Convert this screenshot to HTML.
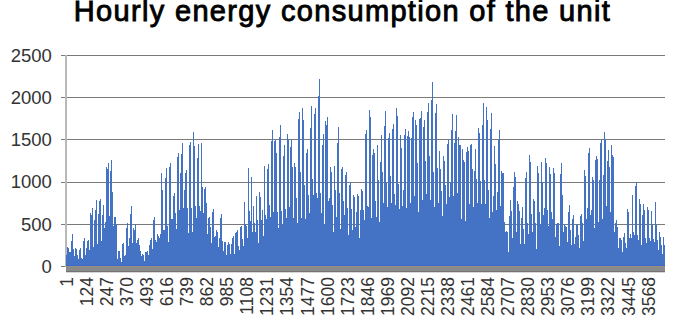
<!DOCTYPE html>
<html><head><meta charset="utf-8"><style>
html,body{margin:0;padding:0;background:#fff;width:685px;height:329px;overflow:hidden}
svg{display:block}
text{font-family:"Liberation Sans",sans-serif;fill:#333}
</style></head><body>
<svg width="685" height="329" viewBox="0 0 685 329">
<text x="342.5" y="21.2" text-anchor="middle" style="font-size:29px;letter-spacing:1.32px;fill:#000;stroke:#000;stroke-width:0.9px">Hourly energy consumption of the unit</text>
<g shape-rendering="crispEdges"><rect x="61" y="55" width="604" height="1" fill="#7a7a7a"/><rect x="61" y="97" width="604" height="1" fill="#7a7a7a"/><rect x="61" y="139" width="604" height="1" fill="#7a7a7a"/><rect x="61" y="182" width="604" height="1" fill="#7a7a7a"/><rect x="61" y="224" width="604" height="1" fill="#7a7a7a"/>
<rect x="65" y="55" width="2" height="212" fill="#b9b9b9"/>
</g>
<g style="font-size:18.5px"><text x="51.9" y="61.5" text-anchor="end">2500</text><text x="51.9" y="103.5" text-anchor="end">2000</text><text x="51.9" y="145.9" text-anchor="end">1500</text><text x="51.9" y="188.3" text-anchor="end">1000</text><text x="51.9" y="230.8" text-anchor="end">500</text><text x="51.9" y="273.3" text-anchor="end">0</text></g>
<g shape-rendering="crispEdges"><path d="M66 255.1h1V266h-1zM67 247.1h1V266h-1zM68 248.4h1V266h-1zM69 252.1h1V266h-1zM70 252.4h1V266h-1zM71 241.3h1V266h-1zM72 233.7h1V266h-1zM73 248.8h1V266h-1zM74 256.1h1V266h-1zM75 248.1h1V266h-1zM76 248.9h1V266h-1zM77 255.2h1V266h-1zM78 259.4h1V266h-1zM79 249.9h1V266h-1zM80 248.3h1V266h-1zM81 257.8h1V266h-1zM82 259.1h1V266h-1zM83 241.1h1V266h-1zM84 238.3h1V266h-1zM85 255.1h1V266h-1zM86 248.4h1V266h-1zM87 241.1h1V266h-1zM88 240.0h1V266h-1zM89 250.0h1V266h-1zM90 213.2h1V266h-1zM91 214.7h1V266h-1zM92 208.0h1V266h-1zM93 246.6h1V266h-1zM94 220.4h1V266h-1zM95 210.3h1V266h-1zM96 199.5h1V266h-1zM97 244.4h1V266h-1zM98 214.4h1V266h-1zM99 200.9h1V266h-1zM100 198.5h1V266h-1zM101 240.7h1V266h-1zM102 214.6h1V266h-1zM103 205.0h1V266h-1zM104 227.5h1V266h-1zM105 222.0h1V266h-1zM106 167.0h1V266h-1zM107 169.1h1V266h-1zM108 163.0h1V266h-1zM109 215.5h1V266h-1zM110 170.5h1V266h-1zM111 160.0h1V266h-1zM112 192.0h1V266h-1zM113 225.8h1V266h-1zM114 217.2h1V266h-1zM115 216.6h1V266h-1zM116 224.0h1V266h-1zM117 259.2h1V266h-1zM118 250.6h1V266h-1zM119 251.2h1V266h-1zM120 257.6h1V266h-1zM121 261.5h1V266h-1zM122 243.5h1V266h-1zM123 242.5h1V266h-1zM124 256.1h1V266h-1zM125 255.2h1V266h-1zM126 227.5h1V266h-1zM127 222.8h1V266h-1zM128 245.8h1V266h-1zM129 238.2h1V266h-1zM130 213.8h1V266h-1zM131 206.0h1V266h-1zM132 242.9h1V266h-1zM133 228.2h1V266h-1zM134 230.4h1V266h-1zM135 223.7h1V266h-1zM136 242.9h1V266h-1zM137 239.5h1V266h-1zM138 238.3h1V266h-1zM139 244.9h1V266h-1zM140 251.1h1V266h-1zM141 255.6h1V266h-1zM142 253.6h1V266h-1zM143 254.6h1V266h-1zM144 261.2h1V266h-1zM145 251.8h1V266h-1zM146 252.4h1V266h-1zM147 251.0h1V266h-1zM148 255.0h1V266h-1zM149 244.9h1V266h-1zM150 240.1h1V266h-1zM151 238.3h1V266h-1zM152 249.2h1V266h-1zM153 219.6h1V266h-1zM154 217.3h1V266h-1zM155 240.4h1V266h-1zM156 241.9h1V266h-1zM157 233.6h1V266h-1zM158 236.0h1V266h-1zM159 237.9h1V266h-1zM160 234.3h1V266h-1zM161 173.0h1V266h-1zM162 190.4h1V266h-1zM163 229.9h1V266h-1zM164 229.9h1V266h-1zM165 178.0h1V266h-1zM166 167.8h1V266h-1zM167 225.6h1V266h-1zM168 242.0h1V266h-1zM169 166.5h1V266h-1zM170 163.4h1V266h-1zM171 218.9h1V266h-1zM172 218.7h1V266h-1zM173 195.6h1V266h-1zM174 193.0h1V266h-1zM175 213.1h1V266h-1zM176 229.0h1V266h-1zM177 157.2h1V266h-1zM178 152.8h1V266h-1zM179 209.9h1V266h-1zM180 172.9h1V266h-1zM181 153.8h1V266h-1zM182 142.8h1V266h-1zM183 208.4h1V266h-1zM184 189.8h1V266h-1zM185 172.9h1V266h-1zM186 170.0h1V266h-1zM187 208.4h1V266h-1zM188 232.8h1V266h-1zM189 145.3h1V266h-1zM190 141.5h1V266h-1zM191 208.4h1V266h-1zM192 232.0h1V266h-1zM193 132.4h1V266h-1zM194 146.1h1V266h-1zM195 205.5h1V266h-1zM196 218.0h1V266h-1zM197 158.2h1V266h-1zM198 143.7h1V266h-1zM199 205.5h1V266h-1zM200 211.0h1V266h-1zM201 142.8h1V266h-1zM202 187.2h1V266h-1zM203 212.9h1V266h-1zM204 188.9h1V266h-1zM205 187.0h1V266h-1zM206 202.5h1V266h-1zM207 233.8h1V266h-1zM208 218.4h1V266h-1zM209 217.2h1V266h-1zM210 227.2h1V266h-1zM211 243.0h1V266h-1zM212 212.2h1V266h-1zM213 209.0h1V266h-1zM214 236.5h1V266h-1zM215 235.6h1V266h-1zM216 230.1h1V266h-1zM217 231.6h1V266h-1zM218 247.4h1V266h-1zM219 238.2h1V266h-1zM220 218.1h1V266h-1zM221 214.2h1V266h-1zM222 241.0h1V266h-1zM223 251.0h1V266h-1zM224 241.5h1V266h-1zM225 242.2h1V266h-1zM226 254.7h1V266h-1zM227 245.1h1V266h-1zM228 242.0h1V266h-1zM229 243.6h1V266h-1zM230 254.0h1V266h-1zM231 244.3h1V266h-1zM232 238.0h1V266h-1zM233 235.6h1V266h-1zM234 254.0h1V266h-1zM235 232.6h1V266h-1zM236 231.8h1V266h-1zM237 230.0h1V266h-1zM238 246.4h1V266h-1zM239 250.2h1V266h-1zM240 226.7h1V266h-1zM241 225.5h1V266h-1zM242 239.2h1V266h-1zM243 246.0h1V266h-1zM244 201.8h1V266h-1zM245 224.0h1V266h-1zM246 226.2h1V266h-1zM247 238.0h1V266h-1zM248 167.8h1V266h-1zM249 210.9h1V266h-1zM250 220.6h1V266h-1zM251 176.9h1V266h-1zM252 232.0h1V266h-1zM253 206.0h1V266h-1zM254 223.2h1V266h-1zM255 232.0h1V266h-1zM256 196.4h1V266h-1zM257 220.2h1V266h-1zM258 243.0h1V266h-1zM259 192.0h1V266h-1zM260 197.0h1V266h-1zM261 220.3h1V266h-1zM262 210.2h1V266h-1zM263 235.6h1V266h-1zM264 165.6h1V266h-1zM265 215.2h1V266h-1zM266 219.0h1V266h-1zM267 168.6h1V266h-1zM268 163.8h1V266h-1zM269 205.4h1V266h-1zM270 217.4h1V266h-1zM271 141.4h1V266h-1zM272 130.0h1V266h-1zM273 212.0h1V266h-1zM274 141.0h1V266h-1zM275 140.0h1V266h-1zM276 153.3h1V266h-1zM277 211.7h1V266h-1zM278 228.0h1V266h-1zM279 136.6h1V266h-1zM280 125.0h1V266h-1zM281 210.5h1V266h-1zM282 224.0h1V266h-1zM283 155.7h1V266h-1zM284 145.0h1V266h-1zM285 208.7h1V266h-1zM286 218.0h1V266h-1zM287 134.0h1V266h-1zM288 139.1h1V266h-1zM289 206.8h1V266h-1zM290 146.5h1V266h-1zM291 140.0h1V266h-1zM292 167.2h1V266h-1zM293 218.0h1V266h-1zM294 163.2h1V266h-1zM295 167.3h1V266h-1zM296 197.7h1V266h-1zM297 223.0h1V266h-1zM298 119.1h1V266h-1zM299 112.0h1V266h-1zM300 171.7h1V266h-1zM301 218.0h1V266h-1zM302 108.0h1V266h-1zM303 119.6h1V266h-1zM304 184.6h1V266h-1zM305 219.0h1V266h-1zM306 152.7h1V266h-1zM307 149.3h1V266h-1zM308 194.7h1V266h-1zM309 213.0h1V266h-1zM310 128.0h1V266h-1zM311 106.0h1V266h-1zM312 179.0h1V266h-1zM313 194.6h1V266h-1zM314 113.5h1V266h-1zM315 108.0h1V266h-1zM316 192.6h1V266h-1zM317 198.0h1V266h-1zM318 95.6h1V266h-1zM319 79.0h1V266h-1zM320 192.6h1V266h-1zM321 213.0h1V266h-1zM322 144.6h1V266h-1zM323 133.6h1V266h-1zM324 224.0h1V266h-1zM325 121.3h1V266h-1zM326 125.0h1V266h-1zM327 117.0h1V266h-1zM328 201.3h1V266h-1zM329 198.0h1V266h-1zM330 166.8h1V266h-1zM331 172.2h1V266h-1zM332 205.3h1V266h-1zM333 232.0h1V266h-1zM334 166.4h1V266h-1zM335 189.9h1V266h-1zM336 216.5h1V266h-1zM337 142.6h1V266h-1zM338 127.0h1V266h-1zM339 193.2h1V266h-1zM340 229.0h1V266h-1zM341 169.4h1V266h-1zM342 167.2h1V266h-1zM343 200.9h1V266h-1zM344 214.7h1V266h-1zM345 175.0h1V266h-1zM346 171.8h1V266h-1zM347 207.7h1V266h-1zM348 234.7h1V266h-1zM349 185.0h1V266h-1zM350 182.3h1V266h-1zM351 208.5h1V266h-1zM352 230.0h1V266h-1zM353 194.5h1V266h-1zM354 197.4h1V266h-1zM355 227.0h1V266h-1zM356 211.7h1V266h-1zM357 193.8h1V266h-1zM358 195.8h1V266h-1zM359 237.5h1V266h-1zM360 210.0h1V266h-1zM361 189.2h1V266h-1zM362 191.3h1V266h-1zM363 209.5h1V266h-1zM364 220.0h1V266h-1zM365 133.6h1V266h-1zM366 129.6h1V266h-1zM367 205.6h1V266h-1zM368 207.0h1V266h-1zM369 109.5h1V266h-1zM370 116.5h1V266h-1zM371 218.0h1V266h-1zM372 155.4h1V266h-1zM373 148.6h1V266h-1zM374 153.0h1V266h-1zM375 201.4h1V266h-1zM376 216.5h1V266h-1zM377 144.9h1V266h-1zM378 180.0h1V266h-1zM379 222.0h1V266h-1zM380 162.3h1V266h-1zM381 134.6h1V266h-1zM382 171.9h1V266h-1zM383 202.8h1V266h-1zM384 125.9h1V266h-1zM385 111.0h1V266h-1zM386 182.6h1V266h-1zM387 207.4h1V266h-1zM388 138.3h1V266h-1zM389 133.0h1V266h-1zM390 175.5h1V266h-1zM391 202.8h1V266h-1zM392 129.4h1V266h-1zM393 123.6h1V266h-1zM394 193.5h1V266h-1zM395 204.7h1V266h-1zM396 107.5h1V266h-1zM397 116.1h1V266h-1zM398 183.7h1V266h-1zM399 209.2h1V266h-1zM400 134.6h1V266h-1zM401 147.8h1V266h-1zM402 205.6h1V266h-1zM403 190.2h1V266h-1zM404 134.9h1V266h-1zM405 128.6h1V266h-1zM406 208.3h1V266h-1zM407 136.2h1V266h-1zM408 130.7h1V266h-1zM409 137.2h1V266h-1zM410 202.8h1V266h-1zM411 137.5h1V266h-1zM412 116.5h1V266h-1zM413 112.0h1V266h-1zM414 195.5h1V266h-1zM415 120.0h1V266h-1zM416 124.9h1V266h-1zM417 162.5h1V266h-1zM418 212.0h1V266h-1zM419 118.6h1V266h-1zM420 118.1h1V266h-1zM421 111.0h1V266h-1zM422 200.0h1V266h-1zM423 126.8h1V266h-1zM424 120.0h1V266h-1zM425 160.9h1V266h-1zM426 193.7h1V266h-1zM427 111.5h1V266h-1zM428 102.8h1V266h-1zM429 155.6h1V266h-1zM430 200.0h1V266h-1zM431 100.0h1V266h-1zM432 82.4h1V266h-1zM433 172.2h1V266h-1zM434 206.5h1V266h-1zM435 112.7h1V266h-1zM436 104.0h1V266h-1zM437 168.2h1V266h-1zM438 202.8h1V266h-1zM439 151.1h1V266h-1zM440 169.3h1V266h-1zM441 190.9h1V266h-1zM442 215.6h1V266h-1zM443 156.0h1V266h-1zM444 160.6h1V266h-1zM445 185.1h1V266h-1zM446 203.8h1V266h-1zM447 144.3h1V266h-1zM448 140.0h1V266h-1zM449 197.4h1V266h-1zM450 181.6h1V266h-1zM451 130.0h1V266h-1zM452 113.5h1V266h-1zM453 195.5h1V266h-1zM454 142.6h1V266h-1zM455 131.1h1V266h-1zM456 115.0h1V266h-1zM457 192.8h1V266h-1zM458 137.3h1V266h-1zM459 145.1h1V266h-1zM460 144.8h1V266h-1zM461 219.3h1V266h-1zM462 149.1h1V266h-1zM463 159.7h1V266h-1zM464 161.6h1V266h-1zM465 221.0h1V266h-1zM466 152.1h1V266h-1zM467 146.7h1V266h-1zM468 150.5h1V266h-1zM469 203.8h1V266h-1zM470 145.3h1V266h-1zM471 143.6h1V266h-1zM472 168.6h1V266h-1zM473 206.5h1V266h-1zM474 170.8h1V266h-1zM475 149.0h1V266h-1zM476 179.0h1V266h-1zM477 202.8h1V266h-1zM478 127.6h1V266h-1zM479 133.3h1V266h-1zM480 180.9h1V266h-1zM481 203.8h1V266h-1zM482 124.8h1V266h-1zM483 102.5h1V266h-1zM484 180.4h1V266h-1zM485 203.8h1V266h-1zM486 107.0h1V266h-1zM487 120.4h1V266h-1zM488 190.0h1V266h-1zM489 218.4h1V266h-1zM490 128.7h1V266h-1zM491 113.0h1V266h-1zM492 212.0h1V266h-1zM493 196.4h1V266h-1zM494 145.9h1V266h-1zM495 164.2h1V266h-1zM496 209.6h1V266h-1zM497 191.5h1V266h-1zM498 139.6h1V266h-1zM499 129.6h1V266h-1zM500 206.0h1V266h-1zM501 170.5h1V266h-1zM502 173.3h1V266h-1zM503 173.4h1V266h-1zM504 222.0h1V266h-1zM505 231.9h1V266h-1zM506 230.8h1V266h-1zM507 231.7h1V266h-1zM508 251.6h1V266h-1zM509 216.1h1V266h-1zM510 200.3h1V266h-1zM511 211.0h1V266h-1zM512 238.0h1V266h-1zM513 187.0h1V266h-1zM514 171.7h1V266h-1zM515 177.0h1V266h-1zM516 231.5h1V266h-1zM517 201.1h1V266h-1zM518 204.1h1V266h-1zM519 211.1h1V266h-1zM520 244.3h1V266h-1zM521 217.6h1V266h-1zM522 206.6h1V266h-1zM523 228.9h1V266h-1zM524 244.3h1V266h-1zM525 177.6h1V266h-1zM526 172.0h1V266h-1zM527 223.0h1V266h-1zM528 234.2h1V266h-1zM529 155.4h1V266h-1zM530 162.2h1V266h-1zM531 213.6h1V266h-1zM532 231.5h1V266h-1zM533 199.4h1V266h-1zM534 201.3h1V266h-1zM535 223.4h1V266h-1zM536 248.8h1V266h-1zM537 165.6h1V266h-1zM538 173.4h1V266h-1zM539 212.1h1V266h-1zM540 224.2h1V266h-1zM541 162.0h1V266h-1zM542 181.8h1V266h-1zM543 215.0h1V266h-1zM544 208.4h1V266h-1zM545 157.7h1V266h-1zM546 162.7h1V266h-1zM547 210.0h1V266h-1zM548 226.0h1V266h-1zM549 167.4h1V266h-1zM550 173.9h1V266h-1zM551 211.9h1V266h-1zM552 218.7h1V266h-1zM553 167.7h1V266h-1zM554 173.3h1V266h-1zM555 237.0h1V266h-1zM556 223.8h1V266h-1zM557 222.8h1V266h-1zM558 223.1h1V266h-1zM559 246.0h1V266h-1zM560 174.4h1V266h-1zM561 163.0h1V266h-1zM562 194.9h1V266h-1zM563 231.5h1V266h-1zM564 224.0h1V266h-1zM565 225.8h1V266h-1zM566 227.1h1V266h-1zM567 241.5h1V266h-1zM568 211.7h1V266h-1zM569 205.0h1V266h-1zM570 230.3h1V266h-1zM571 245.2h1V266h-1zM572 218.6h1V266h-1zM573 215.0h1V266h-1zM574 244.3h1V266h-1zM575 236.8h1V266h-1zM576 224.8h1V266h-1zM577 224.0h1V266h-1zM578 234.7h1V266h-1zM579 248.0h1V266h-1zM580 215.9h1V266h-1zM581 214.0h1V266h-1zM582 222.6h1V266h-1zM583 240.6h1V266h-1zM584 170.0h1V266h-1zM585 176.0h1V266h-1zM586 218.7h1V266h-1zM587 207.5h1V266h-1zM588 153.2h1V266h-1zM589 148.0h1V266h-1zM590 215.0h1V266h-1zM591 210.1h1V266h-1zM592 177.4h1V266h-1zM593 180.3h1V266h-1zM594 227.8h1V266h-1zM595 159.6h1V266h-1zM596 156.4h1V266h-1zM597 159.4h1V266h-1zM598 222.4h1V266h-1zM599 180.1h1V266h-1zM600 143.0h1V266h-1zM601 139.6h1V266h-1zM602 218.7h1V266h-1zM603 175.0h1V266h-1zM604 132.0h1V266h-1zM605 138.9h1V266h-1zM606 206.0h1V266h-1zM607 161.3h1V266h-1zM608 150.0h1V266h-1zM609 167.3h1V266h-1zM610 212.0h1V266h-1zM611 145.3h1V266h-1zM612 155.2h1V266h-1zM613 157.1h1V266h-1zM614 232.0h1V266h-1zM615 223.1h1V266h-1zM616 219.9h1V266h-1zM617 227.0h1V266h-1zM618 248.2h1V266h-1zM619 237.9h1V266h-1zM620 238.1h1V266h-1zM621 239.7h1V266h-1zM622 252.4h1V266h-1zM623 237.2h1V266h-1zM624 233.3h1V266h-1zM625 242.8h1V266h-1zM626 248.2h1V266h-1zM627 208.8h1V266h-1zM628 212.4h1V266h-1zM629 238.0h1V266h-1zM630 234.3h1V266h-1zM631 237.5h1V266h-1zM632 195.0h1V266h-1zM633 232.3h1V266h-1zM634 235.4h1V266h-1zM635 186.0h1V266h-1zM636 181.7h1V266h-1zM637 234.8h1V266h-1zM638 239.7h1V266h-1zM639 199.3h1V266h-1zM640 204.0h1V266h-1zM641 245.0h1V266h-1zM642 214.7h1V266h-1zM643 203.5h1V266h-1zM644 210.0h1V266h-1zM645 238.0h1V266h-1zM646 242.9h1V266h-1zM647 207.4h1V266h-1zM648 209.7h1V266h-1zM649 238.0h1V266h-1zM650 240.7h1V266h-1zM651 210.5h1V266h-1zM652 224.8h1V266h-1zM653 238.9h1V266h-1zM654 241.8h1V266h-1zM655 201.8h1V266h-1zM656 225.4h1V266h-1zM657 240.3h1V266h-1zM658 250.3h1V266h-1zM659 232.2h1V266h-1zM660 237.3h1V266h-1zM661 245.0h1V266h-1zM662 253.5h1V266h-1zM663 236.8h1V266h-1zM664 244.6h1V266h-1z" fill="#4472C4"/>
<rect x="66" y="265" width="599" height="1" fill="#3a68cc"/>
<rect x="61" y="266" width="5" height="1" fill="#7a7a7a"/>
<rect x="65" y="266" width="1" height="1" fill="#c8bca8"/>
<rect x="66" y="266" width="599" height="1" fill="#9a9080"/>
<rect x="66" y="267" width="599" height="4" fill="#8a8a8a"/>
<rect x="66" y="271" width="599" height="1" fill="#747474"/>
<rect x="66" y="272" width="599" height="1" fill="#d8d8d8"/>
</g>
<g style="font-size:17.5px"><text transform="translate(72.7,277) rotate(-90)" text-anchor="end">1</text><text transform="translate(92.7,277) rotate(-90)" text-anchor="end">124</text><text transform="translate(112.8,277) rotate(-90)" text-anchor="end">247</text><text transform="translate(132.9,277) rotate(-90)" text-anchor="end">370</text><text transform="translate(152.9,277) rotate(-90)" text-anchor="end">493</text><text transform="translate(173.0,277) rotate(-90)" text-anchor="end">616</text><text transform="translate(193.1,277) rotate(-90)" text-anchor="end">739</text><text transform="translate(213.1,277) rotate(-90)" text-anchor="end">862</text><text transform="translate(233.2,277) rotate(-90)" text-anchor="end">985</text><text transform="translate(253.3,277) rotate(-90)" text-anchor="end">1108</text><text transform="translate(273.3,277) rotate(-90)" text-anchor="end">1231</text><text transform="translate(293.4,277) rotate(-90)" text-anchor="end">1354</text><text transform="translate(313.5,277) rotate(-90)" text-anchor="end">1477</text><text transform="translate(333.5,277) rotate(-90)" text-anchor="end">1600</text><text transform="translate(353.6,277) rotate(-90)" text-anchor="end">1723</text><text transform="translate(373.6,277) rotate(-90)" text-anchor="end">1846</text><text transform="translate(393.7,277) rotate(-90)" text-anchor="end">1969</text><text transform="translate(413.8,277) rotate(-90)" text-anchor="end">2092</text><text transform="translate(433.8,277) rotate(-90)" text-anchor="end">2215</text><text transform="translate(453.9,277) rotate(-90)" text-anchor="end">2338</text><text transform="translate(474.0,277) rotate(-90)" text-anchor="end">2461</text><text transform="translate(494.0,277) rotate(-90)" text-anchor="end">2584</text><text transform="translate(514.1,277) rotate(-90)" text-anchor="end">2707</text><text transform="translate(534.2,277) rotate(-90)" text-anchor="end">2830</text><text transform="translate(554.2,277) rotate(-90)" text-anchor="end">2953</text><text transform="translate(574.3,277) rotate(-90)" text-anchor="end">3076</text><text transform="translate(594.4,277) rotate(-90)" text-anchor="end">3199</text><text transform="translate(614.4,277) rotate(-90)" text-anchor="end">3322</text><text transform="translate(634.5,277) rotate(-90)" text-anchor="end">3445</text><text transform="translate(654.6,277) rotate(-90)" text-anchor="end">3568</text></g>
</svg>
</body></html>
